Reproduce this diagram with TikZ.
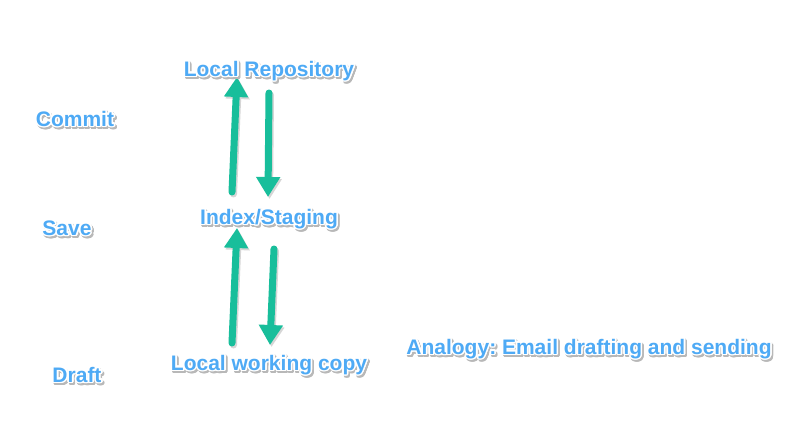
\documentclass[tikz,border=0pt]{standalone}
\usepackage{fontspec}
\setmainfont{Liberation Sans}
\usepackage{contour}
\contourlength{1.6pt}
\contournumber{16}
\usetikzlibrary{arrows.meta}
\frenchspacing
\definecolor{txtblue}{RGB}{78,170,245}
\definecolor{arrteal}{RGB}{24,190,155}
\newcommand{\glowtxt}[1]{\rlap{\kern1.6pt\raisebox{-2.2pt}{\contour{black!28}{\color{black!28}#1}}}\contour{white}{#1}}
\tikzset{
  lbl/.style={anchor=base, inner sep=0pt, text=txtblue, font=\fontsize{21}{25}\selectfont\bfseries\frenchspacing},
  flow/.style={draw=arrteal, line width=7pt, line cap=round, -{Triangle[width=23pt,length=20pt]}},
  flowshadow/.style={draw=black!16, line width=7pt, line cap=round, -{Triangle[width=23pt,length=20pt]}}
}
\begin{document}
\begin{tikzpicture}[x=1pt,y=-1pt]
\fill[white] (0,0) rectangle (801,439);
\useasboundingbox (0,0) rectangle (801,439);
% arrow end points
\coordinate (u1s) at (232,192);
\coordinate (u1e) at (237,77);
\coordinate (d1s) at (269,93);
\coordinate (d1e) at (268,197);
\coordinate (u2s) at (232,343);
\coordinate (u2e) at (237,228);
\coordinate (d2s) at (274,249);
\coordinate (d2e) at (270,345);
% shadows
\foreach \a/\b in {u1s/u1e,d1s/d1e,u2s/u2e,d2s/d2e}
  \draw[flowshadow] ([shift={(1.5,2)}]\a) -- ([shift={(1.5,2)}]\b);
\draw[flow] (u1s) -- (u1e);
\draw[flow] (d1s) -- (d1e);
\draw[flow] (u2s) -- (u2e);
\draw[flow] (d2s) -- (d2e);
% labels
\node[lbl] (repo) at (269,76) {\glowtxt{Local Repository}};
\node[lbl] (commit) at (75,126) {\glowtxt{Commit}};
\node[lbl] (save) at (67,235) {\glowtxt{Save}};
\node[lbl] (index) at (269,224) {\glowtxt{Index/Staging}};
\node[lbl] (draft) at (77,382) {\glowtxt{Draft}};
\node[lbl] (work) at (269,370) {\glowtxt{Local working copy}};
\node[lbl] (analogy) at (589,354) {\glowtxt{Analogy: Email drafting and sending}};
\end{tikzpicture}
\end{document}
